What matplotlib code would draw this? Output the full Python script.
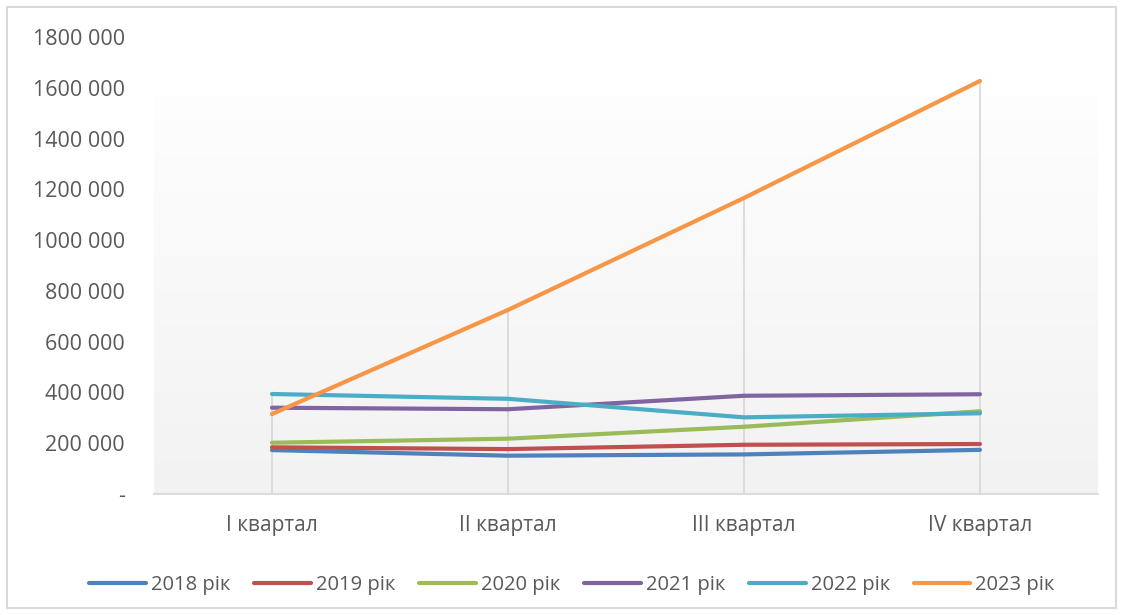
import matplotlib.pyplot as plt
import numpy as np
from matplotlib.patches import Rectangle

# Quarterly values by year
quarters = ["I квартал", "II квартал", "III квартал", "IV квартал"]
years = ["2018 рік", "2019 рік", "2020 рік", "2021 рік", "2022 рік", "2023 рік"]
v2018 = [173000, 151000, 156000, 174000]
v2019 = [184000, 177000, 194000, 197000]
v2020 = [202000, 218000, 265000, 326000]
v2021 = [340000, 334000, 387000, 393000]
v2022 = [394000, 375000, 302000, 318000]
v2023 = [315000, 725000, 1166000, 1627000]
yticks = [0, 200000, 400000, 600000, 800000, 1000000, 1200000, 1400000, 1600000, 1800000]
ytick_labels = ["-", "200 000", "400 000", "600 000", "800 000", "1000 000",
                "1200 000", "1400 000", "1600 000", "1800 000"]

series = [v2018, v2019, v2020, v2021, v2022, v2023]
colors = ["#4F81BD", "#C0504D", "#9BBB59", "#8064A2", "#4BACC6", "#F79646"]

plt.rcParams['font.family'] = ['Open Sans', 'DejaVu Sans']

f = plt.figure(figsize=(11.23, 6.15), dpi=100)
ax = f.add_axes([0.1371, 0.1967, 0.8406, 0.7431])
x = np.arange(len(quarters))

ax.set_xlim(-0.5, len(quarters) - 0.5)
ax.set_ylim(0, 1800000)

# soft grey gradient behind the plot area
grad = np.linspace(0.949, 0.995, 256).reshape(-1, 1)
ax.imshow(np.dstack([grad, grad, grad]), extent=[-0.5, len(quarters) - 0.5, 0, 1563000],
          origin="lower", aspect="auto", zorder=0)

# drop lines from the highest point of each quarter
tops = np.max(np.array(series), axis=0)
ax.vlines(x, 0, tops, color="#D9D9D9", lw=1.3, zorder=1)

for vals, c, lab in zip(series, colors, years):
    ax.plot(x, vals, color=c, lw=3.0, label=lab, solid_capstyle="round", zorder=3)

for s in ["top", "right", "left"]:
    ax.spines[s].set_visible(False)
ax.spines["bottom"].set_color("#D9D9D9")
ax.spines["bottom"].set_linewidth(1.3)

ax.set_yticks(yticks)
ax.set_yticklabels(ytick_labels)
ax.set_xticks(x)
ax.set_xticklabels(quarters)
ax.tick_params(axis="y", length=0, pad=21, labelsize=15.5, labelcolor="#595959")
ax.tick_params(axis="x", length=0, pad=15, labelsize=15, labelcolor="#595959")

leg = ax.legend(loc="center", bbox_to_anchor=(0.443, -0.2), ncol=6, frameon=False,
                fontsize=14.5, handlelength=2.8, handletextpad=0.25, columnspacing=1.2)
for t in leg.get_texts():
    t.set_color("#595959")

# outer chart border
f.patches.append(Rectangle((7 / 1123, 7 / 615), 1 - 14 / 1123, 1 - 14 / 615,
                           transform=f.transFigure, fill=False, ec="#D9D9D9", lw=1.5))

f.savefig("out.png", dpi=100)
